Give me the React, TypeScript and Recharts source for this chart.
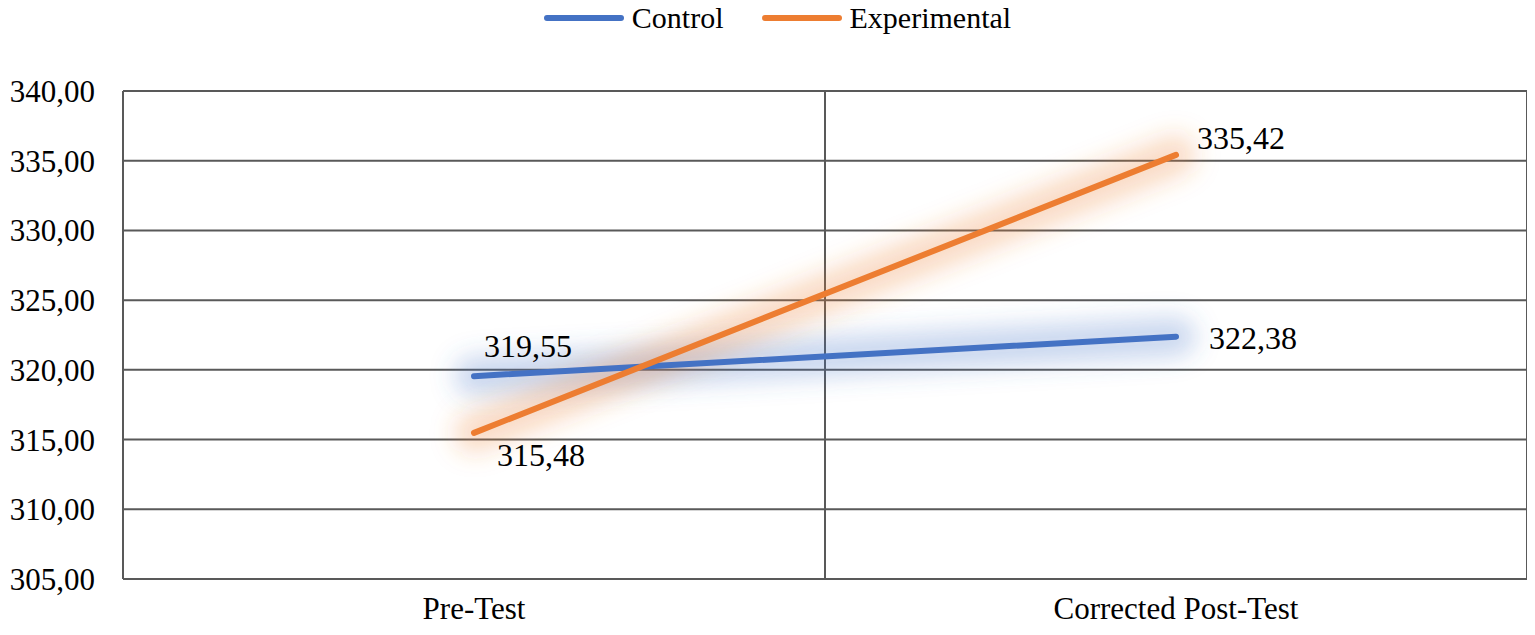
import {
	CartesianGrid,
	LabelList,
	Legend,
	Line,
	LineChart,
	XAxis,
	YAxis,
} from "recharts"

const categories = ["Pre-Test", "Corrected Post-Test"]
const control = [319.55, 322.38]
const experimental = [315.48, 335.42]
const yTicks = [305, 310, 315, 320, 325, 330, 335, 340]

const data = categories.map((name, i) => ({
	x: i + 0.5,
	name,
	control: control[i],
	experimental: experimental[i],
}))

const FONT = "Liberation Serif, serif"
const BLUE = "#4472C4"
const ORANGE = "#ED7D31"

const fmt = (v: number) => v.toFixed(2).replace(".", ",")

// label offsets from each point, [dx, dy] per category
const controlOffsets = [
	[54, -30],
	[77, 1],
]
const experimentalOffsets = [
	[67, 22],
	[65, -17],
]

function makeLabel(offsets: number[][]) {
	return (props: any) => {
		const { x, y, value, index } = props
		const [dx, dy] = offsets[index] || [0, 0]
		return (
			<text
				x={x + dx}
				y={y + dy}
				textAnchor="middle"
				dominantBaseline="central"
				style={{ fontFamily: FONT }}
				fontSize={32}
				fill="#000"
			>
				{fmt(value)}
			</text>
		)
	}
}

const legendItems = [
	{ name: "Control", color: BLUE },
	{ name: "Experimental", color: ORANGE },
]

function LegendContent() {
	return (
		<div
			style={{
				display: "flex",
				justifyContent: "center",
				alignItems: "center",
				height: 20,
				paddingLeft: 20,
				fontFamily: FONT,
				fontSize: 30,
				lineHeight: "20px",
				color: "#000",
			}}
		>
			{legendItems.map((item, i) => (
				<div
					key={item.name}
					style={{ display: "flex", alignItems: "center", marginLeft: i ? 38 : 0 }}
				>
					<div
						style={{
							width: 80,
							height: 6,
							borderRadius: 3,
							background: item.color,
							marginRight: 8,
						}}
					/>
					<span>{item.name}</span>
				</div>
			))}
		</div>
	)
}

const tickStyle = { fontSize: 31, fill: "#000", style: { fontFamily: FONT } }

export default function App() {
	return (
		<div style={{ fontFamily: FONT }}>
			<LineChart
				width={1527}
				height={627}
				data={data}
				margin={{ top: 0, right: 8, bottom: 0, left: 0 }}
				style={{ fontFamily: FONT }}
			>
				<defs>
					<filter
						id="glow"
						filterUnits="userSpaceOnUse"
						x={0}
						y={0}
						width={1535}
						height={635}
					>
						<feGaussianBlur stdDeviation={12} />
					</filter>
				</defs>
				<CartesianGrid
					stroke="#595959"
					strokeWidth={2}
					verticalCoordinatesGenerator={({ offset }: any) => [
						offset.left,
						offset.left + offset.width / 2,
						offset.left + offset.width,
					]}
				/>
				<XAxis
					dataKey="x"
					type="number"
					domain={[0, 2]}
					ticks={[0.5, 1.5]}
					interval={0}
					tickFormatter={(v: number) => categories[Math.round(v - 0.5)]}
					axisLine={false}
					tickLine={false}
					tickSize={0}
					tickMargin={18}
					height={56}
					tick={tickStyle}
				/>
				<YAxis
					domain={[305, 340]}
					ticks={yTicks}
					tickFormatter={fmt}
					axisLine={false}
					tickLine={false}
					tickSize={0}
					tickMargin={28}
					width={115}
					tick={tickStyle}
				/>
				<Legend verticalAlign="top" align="center" height={83} content={<LegendContent />} />
				<Line
					dataKey="control"
					stroke={BLUE}
					strokeOpacity={0.28}
					strokeWidth={40}
					strokeLinecap="round"
					filter="url(#glow)"
					dot={false}
					activeDot={false}
					legendType="none"
					isAnimationActive={false}
				/>
				<Line
					dataKey="experimental"
					stroke={ORANGE}
					strokeOpacity={0.28}
					strokeWidth={40}
					strokeLinecap="round"
					filter="url(#glow)"
					dot={false}
					activeDot={false}
					legendType="none"
					isAnimationActive={false}
				/>
				<Line
					dataKey="control"
					name="Control"
					stroke={BLUE}
					strokeWidth={6}
					strokeLinecap="round"
					dot={false}
					activeDot={false}
					isAnimationActive={false}
				>
					<LabelList dataKey="control" content={makeLabel(controlOffsets)} />
				</Line>
				<Line
					dataKey="experimental"
					name="Experimental"
					stroke={ORANGE}
					strokeWidth={6}
					strokeLinecap="round"
					dot={false}
					activeDot={false}
					isAnimationActive={false}
				>
					<LabelList dataKey="experimental" content={makeLabel(experimentalOffsets)} />
				</Line>
			</LineChart>
		</div>
	)
}
